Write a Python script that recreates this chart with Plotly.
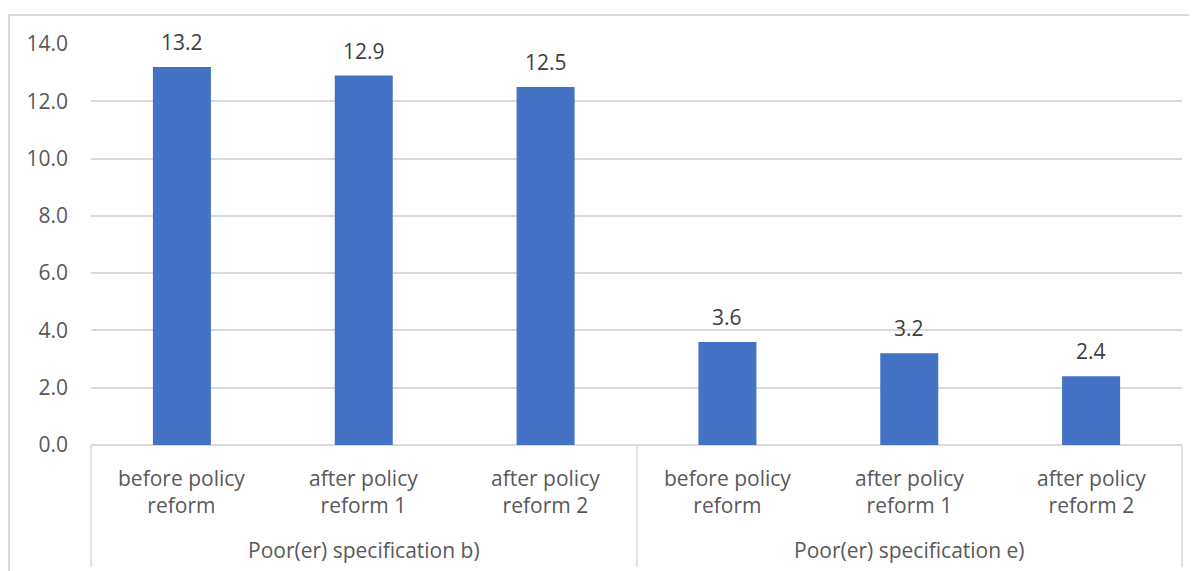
import plotly.graph_objects as go

groups = ["Poor(er) specification b)", "Poor(er) specification e)"]
categories = ["before policy<br>reform", "after policy<br>reform 1", "after policy<br>reform 2",
              "before policy<br>reform", "after policy<br>reform 1", "after policy<br>reform 2"]
values = [13.2, 12.9, 12.5, 3.6, 3.2, 2.4]
y_ticks = [0, 2, 4, 6, 8, 10, 12, 14]

W, H = 1197, 571
OFF = 8  # page offset of the figure inside the browser window
# plot area in page pixels
PL, PR, PT, PB = 91, 1182, 44, 445
L, R, T, B = PL - OFF, W - (PR - OFF), PT - OFF, H - (PB - OFF)
pw, ph = W - L - R, H - T - B

def px_x(p):
    return (p - OFF - L) / pw

def px_y(p):
    return (H - B - (p - OFF)) / ph

FONT = "Open Sans"
GRAY = "#595959"
x_idx = list(range(len(values)))

fig = go.Figure()
fig.add_trace(go.Bar(
    x=x_idx, y=values, marker=dict(color="#4472C4", line=dict(width=0)),
    width=0.319, hoverinfo="skip",
))

annotations = []
for i, v in enumerate(values):
    annotations.append(dict(x=i, y=v, xref="x", yref="y", text=f"{v:.1f}", showarrow=False,
                            yanchor="middle", yshift=25,
                            font=dict(family=FONT, size=21, color="#404040")))
for i, c in enumerate(categories):
    annotations.append(dict(x=i, y=px_y(491.5), xref="x", yref="paper", text=c, showarrow=False,
                            yanchor="middle", font=dict(family=FONT, size=21, color=GRAY), align="center"))
for g, name in enumerate(groups):
    annotations.append(dict(x=3 * g + 1, y=px_y(550), xref="x", yref="paper", text=name, showarrow=False,
                            yanchor="middle", font=dict(family=FONT, size=21, color=GRAY)))

shapes = [
    dict(type="rect", xref="paper", yref="paper", x0=px_x(9), x1=px_x(1215), y0=px_y(600), y1=px_y(15),
         line=dict(color="#d9d9d9", width=2), fillcolor="rgba(0,0,0,0)", layer="below"),
]
for xp in [PL, 637, PR]:
    shapes.append(dict(type="line", xref="paper", yref="paper", x0=px_x(xp), x1=px_x(xp),
                       y0=px_y(PB), y1=px_y(567), line=dict(color="#d9d9d9", width=1.5)))

fig.update_layout(
    width=W, height=H, margin=dict(l=L, r=R, t=T, b=B, autoexpand=False),
    paper_bgcolor="white", plot_bgcolor="white", showlegend=False,
    xaxis=dict(range=[-0.5, 5.5], showticklabels=False, showgrid=False, zeroline=False,
               showline=False, ticks="", fixedrange=True),
    yaxis=dict(range=[0, 14], tickvals=y_ticks, ticktext=[f"{v:.1f}" for v in y_ticks],
               showgrid=True, gridcolor="#d9d9d9", gridwidth=1.5, zeroline=True, zerolinecolor="#d9d9d9",
               zerolinewidth=1.5, showline=False, ticks="", ticklabelstandoff=22,
               tickfont=dict(family=FONT, size=21, color=GRAY), fixedrange=True),
    annotations=annotations, shapes=shapes,
)

fig.write_html("out.html")
